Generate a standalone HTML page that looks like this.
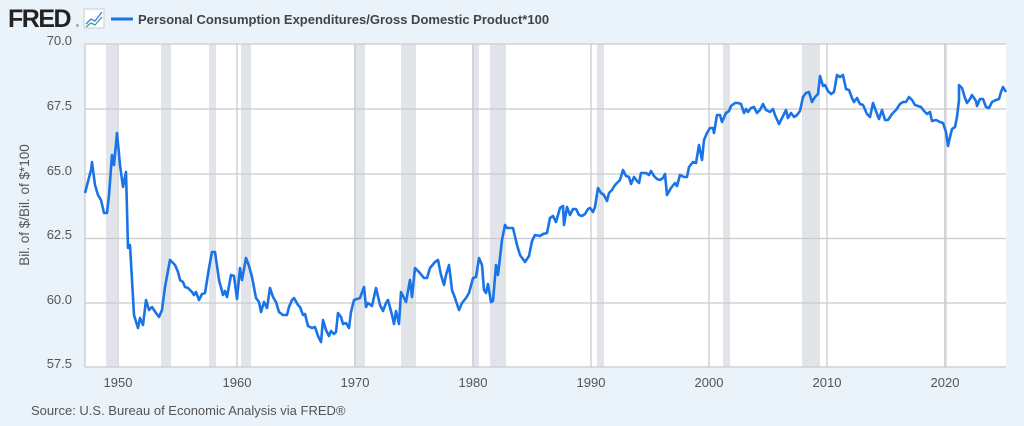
<!DOCTYPE html>
<html><head><meta charset="utf-8"><style>
body{margin:0;width:1024px;height:421px;background:#eaf2fa;font-family:"Liberation Sans",sans-serif;overflow:hidden}
</style></head><body>
<svg width="1024" height="421" xmlns="http://www.w3.org/2000/svg" font-family="Liberation Sans, sans-serif">
<rect width="1024" height="421" fill="#eaf2fa"/>
<text x="8" y="27" font-size="25" font-weight="bold" fill="#222" letter-spacing="-1.5">FRED</text>
<text x="76" y="27" font-size="4" fill="#222">®</text>
<rect x="84" y="9" width="20" height="19" fill="#fff" stroke="#ccc"/>
<polyline points="86,24 91,19 95,21 102,12" fill="none" stroke="#3b7dd8" stroke-width="1.3"/>
<polyline points="86,27 91,23 95,25 102,17" fill="none" stroke="#2aa198" stroke-width="1.3"/>
<line x1="111" y1="19" x2="133" y2="19" stroke="#1a74e8" stroke-width="3"/>
<text x="138" y="24" font-size="13" font-weight="bold" fill="#444">Personal Consumption Expenditures/Gross Domestic Product*100</text>
<rect x="85" y="44" width="921" height="323" fill="#fff"/>
<g fill="#e1e5ea">
<rect x="106" y="44" width="11" height="323"/><rect x="161" y="44" width="10" height="323"/><rect x="209" y="44" width="7" height="323"/><rect x="241" y="44" width="10" height="323"/><rect x="354" y="44" width="11" height="323"/><rect x="401" y="44" width="15" height="323"/><rect x="472" y="44" width="7" height="323"/><rect x="490" y="44" width="16" height="323"/><rect x="597" y="44" width="7" height="323"/><rect x="723" y="44" width="7" height="323"/><rect x="802" y="44" width="18" height="323"/><rect x="944" y="44" width="3" height="323"/>
</g>
<g stroke="#cbcbcb" stroke-width="1.3">
<line x1="85" y1="44" x2="1006" y2="44"/><line x1="85" y1="109" x2="1006" y2="109"/><line x1="85" y1="174" x2="1006" y2="174"/><line x1="85" y1="238.5" x2="1006" y2="238.5"/><line x1="85" y1="303" x2="1006" y2="303"/><line x1="85" y1="367" x2="1006" y2="367"/>
<line x1="85" y1="44" x2="85" y2="367"/>
<line x1="118" y1="44" x2="118" y2="367"/><line x1="237" y1="44" x2="237" y2="367"/><line x1="355" y1="44" x2="355" y2="367"/><line x1="473" y1="44" x2="473" y2="367"/><line x1="591" y1="44" x2="591" y2="367"/><line x1="709" y1="44" x2="709" y2="367"/><line x1="827" y1="44" x2="827" y2="367"/><line x1="945" y1="44" x2="945" y2="367"/>
</g>
<polyline fill="none" stroke="#1a74e8" stroke-width="2.6" stroke-linejoin="round" points="85,193 91,170 92,162 95,185 98,195 101,200 104,213 107,213 109,195 112,155 114,165 117,133 120,165 123,187 126,172 128,248 130,245 134,315 138,328 140,318 143,325 146,300 149,310 152,307 156,313 159,317 162,310 165,287 170,260 175,265 178,272 180,280 183,282 185,287 188,288 192,292 194,295 196,292 199,300 202,294 205,293 209,268 212,252 215,252 219,280 223,295 225,291 227,297 231,275 234,276 237,299 240,268 242,280 246,258 249,266 252,277 256,298 259,302 261,312 264,302 267,308 270,288 273,297 276,302 279,312 283,315 287,315 289,307 292,300 294,298 298,305 300,307 303,315 305,314 308,326 312,328 315,327 318,336 321,342 323,320 326,330 329,336 331,331 334,334 336,332 338,313 341,317 343,324 346,323 349,328 351,312 354,300 357,299 360,298 364,287 366,307 368,303 372,306 376,288 380,305 383,311 386,303 388,300 392,315 394,324 396,311 399,324 401,292 406,302 410,280 412,297 415,268 419,272 424,278 427,278 430,268 435,262 438,260 441,275 444,285 446,275 449,265 452,290 455,298 459,310 462,303 466,298 469,293 473,278 476,277 479,258 482,265 484,290 486,293 488,284 491,302 493,301 496,265 498,275 502,240 505,225 507,228 513,228 517,245 520,255 525,262 529,256 532,241 535,235 540,236 543,234 547,233 550,218 553,216 556,222 560,208 563,206 564,225 567,207 570,215 573,209 576,209 579,215 582,216 585,214 588,209 590,208 593,212 595,207 598,188 601,193 604,195 607,201 609,193 612,190 615,185 620,180 623,170 626,176 629,177 631,184 634,177 637,181 639,183 641,173 646,173 649,175 651,171 654,176 657,179 660,180 663,178 665,174 667,195 671,188 675,183 677,186 680,175 684,177 687,177 689,167 693,162 696,163 699,145 702,160 704,140 707,133 710,128 713,128 714,133 717,115 720,115 722,122 726,113 729,111 731,106 735,103 738,103 741,104 744,113 746,109 748,112 751,108 754,107 757,113 760,110 763,104 766,110 770,112 773,109 775,115 779,124 782,118 786,110 788,118 791,113 794,117 797,115 800,111 803,97 806,93 809,92 812,102 815,97 818,94 820,76 823,86 825,85 828,91 831,94 834,92 837,75 840,77 843,75 846,89 849,90 852,98 854,102 857,98 860,104 863,105 867,114 870,117 873,103 877,114 879,119 882,110 885,120 888,120 892,114 896,110 900,104 903,102 906,102 909,97 912,100 915,105 918,106 921,107 924,111 927,114 930,112 932,121 936,120 940,122 943,123 946,132 948,146 950,137 952,129 955,127 957,117 959,100 959,85 962,88 965,98 967,103 970,99 972,95 976,101 977,106 980,99 983,99 986,107 989,108 992,102 996,100 999,99 1001,92 1003,87 1006,92"/>
<g font-size="13" fill="#555" text-anchor="end">
<text x="72" y="45">70.0</text><text x="72" y="110">67.5</text><text x="72" y="175">65.0</text><text x="72" y="239">62.5</text><text x="72" y="304">60.0</text><text x="72" y="368">57.5</text>
</g>
<g font-size="13" fill="#555" text-anchor="middle">
<text x="118" y="387">1950</text><text x="237" y="387">1960</text><text x="355" y="387">1970</text><text x="473" y="387">1980</text><text x="591" y="387">1990</text><text x="709" y="387">2000</text><text x="827" y="387">2010</text><text x="945" y="387">2020</text>
</g>
<text transform="translate(29,205) rotate(-90)" font-size="13.5" fill="#555" text-anchor="middle">Bil. of $/Bil. of $*100</text>
<text x="31" y="415" font-size="13" fill="#555">Source: U.S. Bureau of Economic Analysis via FRED®</text>
</svg>
</body></html>
